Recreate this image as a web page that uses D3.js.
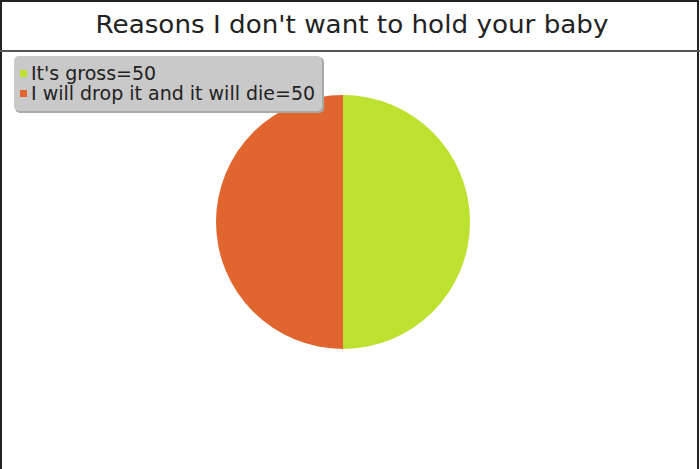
<!DOCTYPE html>
<html>
<head>
<meta charset="utf-8">
<script src="https://cdn.jsdelivr.net/npm/d3@7"></script>
<style>
  body { margin: 0; background: #fff; }
  text { font-family: "DejaVu Sans", sans-serif; fill: #222; }
</style>
</head>
<body>
<svg id="chart" width="700" height="469"></svg>
<script>
var title = "Reasons I don't want to hold your baby";
var labels = ["It's gross", "I will drop it and it will die"];
var values = [50, 50];
var colors = ["#bde12f", "#e0652e"];

var svg = d3.select('#chart');
var W = 700, H = 469;

// frame and title strip
svg.append('rect')
	.attr('x', 1).attr('y', 1)
	.attr('width', W - 3).attr('height', H)
	.attr('fill', '#fff')
	.attr('stroke', '#222')
	.attr('stroke-width', 2);

svg.append('line')
	.attr('x1', 0).attr('x2', W)
	.attr('y1', 51).attr('y2', 51)
	.attr('stroke', '#555')
	.attr('stroke-width', 2);

svg.append('text')
	.attr('x', 352)
	.attr('y', 33)
	.attr('text-anchor', 'middle')
	.attr('textLength', 513)
	.attr('lengthAdjust', 'spacingAndGlyphs')
	.style('font-size', '24px')
	.text(title);

// pie
var cx = 343, cy = 222, radius = 127;

var pie = d3.pie()
	.sort(null)
	.value(function(d) { return d; });

var arc = d3.arc()
	.innerRadius(0)
	.outerRadius(radius);

svg.append('g')
	.attr('transform', 'translate(' + cx + ',' + cy + ')')
	.selectAll('path')
	.data(pie(values))
	.enter()
	.append('path')
	.attr('d', arc)
	.attr('fill', function(d, i) { return colors[i]; });

// legend box
var legend = svg.append('g').attr('class', 'legend');

legend.append('rect')
	.attr('x', 15).attr('y', 57)
	.attr('width', 309).attr('height', 56)
	.attr('rx', 5)
	.attr('fill', '#a9a9a9');

legend.append('rect')
	.attr('x', 14).attr('y', 56)
	.attr('width', 308).attr('height', 55)
	.attr('rx', 5)
	.attr('fill', '#c9c9c9');

var rowY = d3.scaleLinear().domain([0, 1]).range([80, 100]);

legend.selectAll('rect.swatch')
	.data(labels)
	.enter()
	.append('rect')
	.attr('class', 'swatch')
	.attr('x', 20)
	.attr('y', function(d, i) { return rowY(i) - 10; })
	.attr('width', 7)
	.attr('height', 7)
	.attr('fill', function(d, i) { return colors[i]; });

legend.selectAll('text')
	.data(labels)
	.enter()
	.append('text')
	.attr('x', 31)
	.attr('y', function(d, i) { return rowY(i); })
	.style('font-size', '19px')
	.text(function(d, i) { return d + '=' + values[i]; });
</script>
</body>
</html>
